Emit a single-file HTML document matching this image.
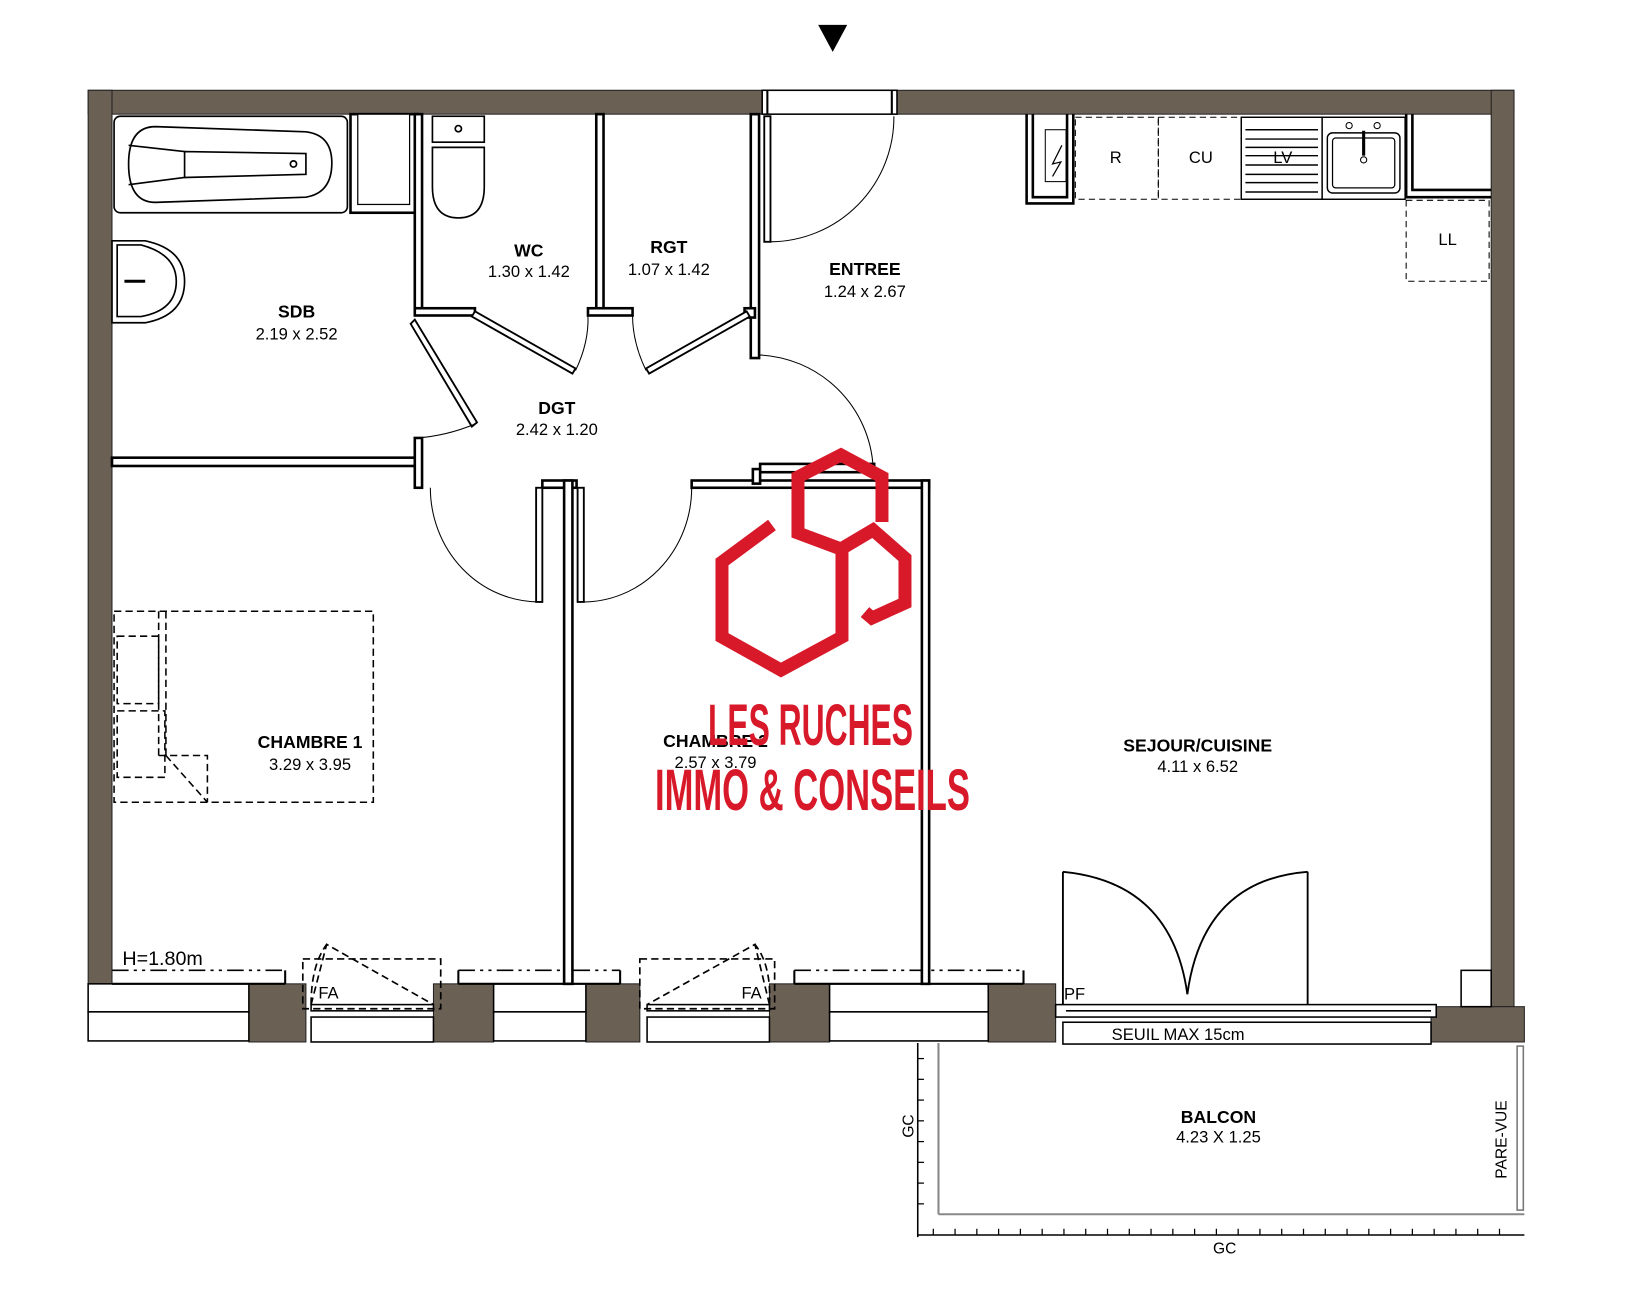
<!DOCTYPE html>
<html><head><meta charset="utf-8">
<style>
html,body{margin:0;padding:0;background:#fff;}
svg{display:block;}
text{font-family:"Liberation Sans",sans-serif;}
</style></head>
<body>
<svg width="1626" height="1290" viewBox="0 0 1568 1243" preserveAspectRatio="none" xmlns="http://www.w3.org/2000/svg">
<rect width="1568" height="1243" fill="#fff"/>
<polygon points="789,24 817,24 803,50" fill="#000"/>

<g fill="#6b6054" stroke="#222" stroke-width="1">
<rect x="85" y="87" width="650" height="23"/>
<rect x="865" y="87" width="595" height="23"/>
<rect x="85" y="87" width="23" height="862"/>
<rect x="1438" y="87" width="22" height="883"/>
<rect x="240" y="948" width="55" height="56"/>
<rect x="418" y="948" width="58" height="56"/>
<rect x="565" y="948" width="52" height="56"/>
<rect x="742" y="948" width="58" height="56"/>
<rect x="953" y="948" width="65" height="56"/>
<rect x="1380" y="970" width="90" height="34"/>
</g>
<rect x="735" y="87" width="130" height="23" fill="#fff" stroke="#000" stroke-width="1.5"/>
<line x1="740" y1="87" x2="740" y2="110" stroke="#000" stroke-width="2"/>
<line x1="860" y1="87" x2="860" y2="110" stroke="#000" stroke-width="2"/>

<g fill="#fff" stroke="#000" stroke-width="1.5">
<rect x="85" y="948" width="155" height="27"/>
<rect x="85" y="975" width="155" height="28"/>
<rect x="476" y="948" width="89" height="27"/>
<rect x="476" y="975" width="89" height="28"/>
<rect x="800" y="948" width="153" height="27"/>
<rect x="800" y="975" width="153" height="28"/>
<rect x="300" y="980" width="118" height="24"/>
<rect x="624" y="980" width="118" height="24"/>
<rect x="1025" y="985" width="355" height="21"/>
<rect x="1018" y="968" width="367" height="12"/>
<rect x="1409" y="935" width="29" height="35"/>
</g>
<g stroke="#000" stroke-width="1.5" fill="#fff">
<rect x="300" y="968" width="118" height="6"/>
<rect x="624" y="968" width="118" height="6"/>
<line x1="1028" y1="974" x2="1380" y2="974"/>
</g>
<g stroke="#000" stroke-width="2" fill="none">
<line x1="108" y1="948" x2="275" y2="948"/><line x1="275" y1="935" x2="275" y2="948"/>
<line x1="442" y1="935" x2="442" y2="948"/><line x1="442" y1="948" x2="598" y2="948"/><line x1="598" y1="935" x2="598" y2="948"/>
<line x1="766" y1="935" x2="766" y2="948"/><line x1="766" y1="948" x2="987" y2="948"/><line x1="987" y1="935" x2="987" y2="948"/>
</g>
<g stroke="#000" stroke-width="1.6" stroke-dasharray="16,5,3,5,3,5" fill="none">
<line x1="108" y1="935" x2="275" y2="935"/>
<line x1="442" y1="935" x2="598" y2="935"/>
<line x1="766" y1="935" x2="987" y2="935"/>
</g>
<text x="118" y="930" font-size="19">H=1.80m</text>

<g stroke="#000" stroke-width="1.6" stroke-dasharray="7,4" fill="none">
<rect x="292" y="924" width="133" height="48"/>
<path d="M300,968 L315,910 L418,968"/>
<path d="M300,968 Q300,930 315,910"/>
<rect x="617" y="924" width="130" height="48"/>
<path d="M742,968 L728,910 L624,968"/>
<path d="M742,968 Q744,930 728,910"/>
</g>
<text x="307" y="962" font-size="16">FA</text>
<text x="715" y="962" font-size="16">FA</text>

<g fill="#fff" stroke="#000" stroke-width="2.5">
<rect x="108" y="441" width="297" height="8"/>
<rect x="400" y="422" width="7" height="48"/>
<rect x="338" y="110" width="65" height="95"/>
<rect x="400" y="110" width="7" height="192"/>
<rect x="400" y="297" width="58" height="7"/>
<rect x="575" y="110" width="7" height="192"/>
<rect x="567" y="297" width="43" height="7"/>
<rect x="724" y="110" width="8" height="235"/>
<rect x="718" y="297" width="10" height="9"/>
<rect x="523" y="463" width="33" height="7"/>
<rect x="544" y="463" width="8" height="485"/>
<rect x="667" y="463" width="229" height="7"/>
<rect x="889" y="463" width="7" height="485"/>
<rect x="733" y="447" width="110" height="8"/>
<rect x="726" y="452" width="7" height="14"/>
</g>
<rect x="345" y="110" width="50" height="87" fill="#fff" stroke="#000" stroke-width="1.2"/>

<g fill="#fff" stroke="#000" stroke-width="1.8">
<rect x="737" y="112" width="6" height="121"/>
<polygon points="458,300 555,355 552,360 455,305"/>
<polygon points="720,300 623,355 626,360 723,305"/>
<polygon points="400,308 460,407 455,411 396,312"/>
<rect x="517" y="470" width="6" height="110"/>
<rect x="557" y="470" width="6" height="110"/>
</g>
<g fill="none" stroke="#000" stroke-width="1">
<path d="M743,233 A120,120 0 0 0 862,112"/>
<path d="M555,357 Q568,330 567,304"/>
<path d="M623,357 Q610,330 610,304"/>
<path d="M457,409 Q430,420 402,422"/>
<path d="M732,342 A115,115 0 0 1 842,450"/>
<path d="M415,470 A105,110 0 0 0 520,580"/>
<path d="M667,470 A105,110 0 0 1 560,580"/>
</g>

<g fill="#fff" stroke="#000" stroke-width="1.6">
<rect x="110" y="112" width="225" height="93" rx="6"/>
<path d="M150,122 L295,127 Q320,130 320,157 Q320,186 295,190 L150,195 Q124,195 124,158 Q124,122 150,122 Z"/>
<path d="M178,146 L295,148 L295,168 L178,171 Z"/>
<line x1="124" y1="140" x2="178" y2="146"/><line x1="124" y1="178" x2="178" y2="171"/>
<circle cx="283" cy="158" r="3"/>
<path d="M108,232 L140,232 Q178,240 178,271 Q178,304 140,311 L108,311 Z"/>
<path d="M113,236 L136,236 Q170,245 170,271 Q170,299 136,305 L113,305 Z"/>
<rect x="417" y="112" width="50" height="25"/>
<path d="M417,142 L467,142 L467,180 Q467,210 442,210 Q417,210 417,180 Z"/>
<circle cx="442" cy="124" r="3"/>
</g>
<line x1="120" y1="271" x2="140" y2="271" stroke="#000" stroke-width="3"/>

<g fill="#fff" stroke="#000" stroke-width="2.5">
<path d="M990,110 L990,196 L1035,196 L1035,110" fill="none"/>
<path d="M996,110 L996,190 L1029,190 L1029,110" fill="none"/>
</g>
<rect x="1008" y="125" width="20" height="50" fill="#fff" stroke="#000" stroke-width="1"/>
<path d="M1024,140 L1015,158 L1023,156 L1015,170" fill="none" stroke="#000" stroke-width="1.2"/>
<g fill="none" stroke="#000" stroke-width="1" stroke-dasharray="6,4">
<rect x="1037" y="113" width="80" height="79"/>
<rect x="1117" y="113" width="80" height="79"/>
<rect x="1356" y="193" width="80" height="78"/>
</g>
<rect x="1197" y="113" width="78" height="79" fill="#fff" stroke="#000" stroke-width="1.4"/>
<g stroke="#000" stroke-width="1.4">
<line x1="1201" y1="125" x2="1271" y2="125"/><line x1="1201" y1="134" x2="1271" y2="134"/>
<line x1="1201" y1="142" x2="1271" y2="142"/><line x1="1201" y1="150" x2="1271" y2="150"/>
<line x1="1201" y1="159" x2="1271" y2="159"/><line x1="1201" y1="168" x2="1271" y2="168"/>
<line x1="1201" y1="176" x2="1271" y2="176"/><line x1="1201" y1="185" x2="1271" y2="185"/>
</g>
<rect x="1275" y="113" width="80" height="79" fill="#fff" stroke="#000" stroke-width="1.4"/>
<rect x="1280" y="128" width="70" height="58" rx="5" fill="none" stroke="#000" stroke-width="1.4"/>
<rect x="1285" y="133" width="60" height="48" rx="3" fill="none" stroke="#000" stroke-width="1.2"/>
<circle cx="1301" cy="121" r="3" fill="none" stroke="#000"/><circle cx="1328" cy="121" r="3" fill="none" stroke="#000"/>
<line x1="1315" y1="126" x2="1315" y2="150" stroke="#000" stroke-width="3"/>
<circle cx="1315" cy="154" r="3" fill="none" stroke="#000"/>
<path d="M1356,110 L1356,190 L1438,190 M1362,110 L1362,183 L1438,183" fill="none" stroke="#000" stroke-width="2.5"/>
<text x="1076" y="157" font-size="16" text-anchor="middle">R</text>
<text x="1158" y="157" font-size="16" text-anchor="middle">CU</text>
<text x="1237" y="157" font-size="16" text-anchor="middle">LV</text>
<text x="1396" y="236" font-size="16" text-anchor="middle">LL</text>

<g fill="none" stroke="#000" stroke-width="1.5" stroke-dasharray="7,4">
<rect x="110" y="589" width="250" height="184"/>
<line x1="153" y1="589" x2="153" y2="728"/><line x1="160" y1="589" x2="160" y2="728"/>
<rect x="113" y="613" width="40" height="65"/>
<rect x="113" y="685" width="46" height="64"/>
<polyline points="153,728 200,728 200,773"/>
<line x1="160" y1="728" x2="200" y2="773"/>
</g>

<g fill="none" stroke="#000" stroke-width="1.8">
<line x1="1025" y1="840" x2="1025" y2="968"/>
<line x1="1261" y1="840" x2="1261" y2="968"/>
<path d="M1025,840 Q1130,850 1145,958"/>
<path d="M1261,840 Q1160,848 1145,958"/>
</g>
<text x="1026" y="963" font-size="16">PF</text>
<text x="1072" y="1002" font-size="16">SEUIL MAX 15cm</text>

<g stroke="#000" fill="none">
<line x1="885" y1="1005" x2="885" y2="1192" stroke-width="1.5"/>
<line x1="885" y1="1190" x2="1470" y2="1190" stroke-width="1.5"/>
<line x1="905" y1="1005" x2="905" y2="1170" stroke="#888" stroke-width="2"/>
<line x1="905" y1="1170" x2="1470" y2="1170" stroke="#888" stroke-width="2"/>
<rect x="1463" y="1008" width="6" height="158" stroke="#777" stroke-width="1.5"/>
</g>
<g stroke="#000" stroke-width="1.2">
<line x1="885" y1="1020" x2="891" y2="1020"/><line x1="885" y1="1040" x2="891" y2="1040"/><line x1="885" y1="1060" x2="891" y2="1060"/><line x1="885" y1="1080" x2="891" y2="1080"/><line x1="885" y1="1100" x2="891" y2="1100"/><line x1="885" y1="1120" x2="891" y2="1120"/><line x1="885" y1="1140" x2="891" y2="1140"/><line x1="885" y1="1160" x2="891" y2="1160"/>
<line x1="900" y1="1184" x2="900" y2="1190"/><line x1="921" y1="1184" x2="921" y2="1190"/><line x1="942" y1="1184" x2="942" y2="1190"/><line x1="963" y1="1184" x2="963" y2="1190"/><line x1="984" y1="1184" x2="984" y2="1190"/><line x1="1005" y1="1184" x2="1005" y2="1190"/><line x1="1026" y1="1184" x2="1026" y2="1190"/><line x1="1047" y1="1184" x2="1047" y2="1190"/><line x1="1068" y1="1184" x2="1068" y2="1190"/><line x1="1089" y1="1184" x2="1089" y2="1190"/><line x1="1110" y1="1184" x2="1110" y2="1190"/><line x1="1131" y1="1184" x2="1131" y2="1190"/><line x1="1152" y1="1184" x2="1152" y2="1190"/><line x1="1173" y1="1184" x2="1173" y2="1190"/><line x1="1194" y1="1184" x2="1194" y2="1190"/><line x1="1215" y1="1184" x2="1215" y2="1190"/><line x1="1236" y1="1184" x2="1236" y2="1190"/><line x1="1257" y1="1184" x2="1257" y2="1190"/><line x1="1278" y1="1184" x2="1278" y2="1190"/><line x1="1299" y1="1184" x2="1299" y2="1190"/><line x1="1320" y1="1184" x2="1320" y2="1190"/><line x1="1341" y1="1184" x2="1341" y2="1190"/><line x1="1362" y1="1184" x2="1362" y2="1190"/><line x1="1383" y1="1184" x2="1383" y2="1190"/><line x1="1404" y1="1184" x2="1404" y2="1190"/><line x1="1425" y1="1184" x2="1425" y2="1190"/><line x1="1446" y1="1184" x2="1446" y2="1190"/>
</g>
<text x="1181" y="1208" font-size="15" text-anchor="middle">GC</text>
<text transform="translate(881,1085) rotate(-90)" font-size="15" text-anchor="middle">GC</text>
<text transform="translate(1453,1098) rotate(-90)" font-size="15" text-anchor="middle">PARE-VUE</text>

<g text-anchor="middle" font-size="16">
<text x="286" y="306" font-weight="bold" font-size="17">SDB</text><text x="286" y="327">2.19 x 2.52</text>
<text x="510" y="247" font-weight="bold" font-size="17">WC</text><text x="510" y="267">1.30 x 1.42</text>
<text x="645" y="244" font-weight="bold" font-size="17">RGT</text><text x="645" y="265">1.07 x 1.42</text>
<text x="834" y="265" font-weight="bold" font-size="17">ENTREE</text><text x="834" y="286">1.24 x 2.67</text>
<text x="537" y="399" font-weight="bold" font-size="17">DGT</text><text x="537" y="419">2.42 x 1.20</text>
<text x="299" y="721" font-weight="bold" font-size="17">CHAMBRE 1</text><text x="299" y="742">3.29 x 3.95</text>
<text x="690" y="720" font-weight="bold" font-size="17">CHAMBRE 2</text><text x="690" y="740">2.57 x 3.79</text>
<text x="1155" y="724" font-weight="bold" font-size="17">SEJOUR/CUISINE</text><text x="1155" y="744">4.11 x 6.52</text>
<text x="1175" y="1082" font-weight="bold" font-size="17">BALCON</text><text x="1175" y="1101">4.23 X 1.25</text>
</g>

<g transform="scale(0.9643,0.9636)" fill="none" stroke="#d8192a" stroke-width="13" stroke-linejoin="miter">
<polyline points="772,525 722,562 722,637 781,670 842,637 842,548"/>
<polyline points="882,522 882,477 841,455 798,477 798,533 841,549 873,530 905,558 905,603 872,618 865,612"/>
</g>
<g transform="scale(0.9643,0.9636)" fill="#d8192a" font-weight="bold" font-family="'Liberation Sans Narrow','Liberation Sans',sans-serif">
<text x="708" y="745" font-size="58" textLength="205" lengthAdjust="spacingAndGlyphs">LES RUCHES</text>
<text x="655" y="810" font-size="58" textLength="315" lengthAdjust="spacingAndGlyphs">IMMO &amp; CONSEILS</text>
</g>
</svg>
</body></html>
